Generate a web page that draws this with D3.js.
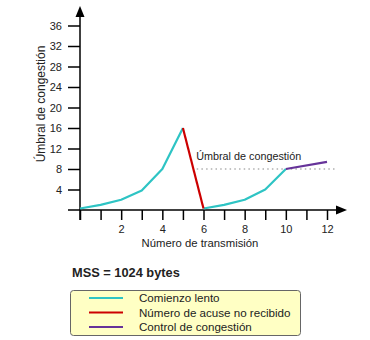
<!DOCTYPE html>
<html><head><meta charset="utf-8">
<script src="https://cdn.jsdelivr.net/npm/d3@7"></script>
<style>body{margin:0;background:#fff}svg{display:block;font-family:"Liberation Sans",Arial,sans-serif}</style>
</head><body>
<script>
const slowStart1 = [[0,0.3],[1,1],[2,2],[3,3.8],[4,8],[5,16]];
const ackLost = [[5,16],[6,0.3]];
const slowStart2 = [[6,0.3],[7,1],[8,2],[9,4],[10,8]];
const congControl = [[10,8],[12,9.4]];
const threshold = 8;
const thresholdRange = [5.67, 12.5];
const xTicks = [0,1,2,3,4,5,6,7,8,9,10,11,12];
const yTicks = [4,8,12,16,20,24,28,32,36];
const legendItems = [
  {label:"Comienzo lento", color:"#2ec4c4"},
  {label:"Número de acuse no recibido", color:"#cc0000"},
  {label:"Control de congestión", color:"#663399"}
];

const W=370,H=340;
const svg=d3.select("body").append("svg").attr("width",W).attr("height",H);
const x=d3.scaleLinear().domain([0,12]).range([80,327]);
const y=d3.scaleLinear().domain([0,36]).range([210,25.5]);
const txt="#222";

// x axis
const gx=svg.append("g").attr("transform","translate(0,210)")
  .call(d3.axisBottom(x).tickValues(xTicks).tickSize(10).tickPadding(5)
    .tickFormat(d=> (d>0 && d%2===0)? d : ""));
gx.select(".domain").remove();
gx.selectAll("line").attr("stroke","#000").attr("stroke-width",1.5);
gx.selectAll("text").attr("font-size","11px").attr("fill",txt).attr("font-family","Liberation Sans, Arial, sans-serif");
svg.append("line").attr("x1",68).attr("x2",338).attr("y1",210).attr("y2",210).attr("stroke","#000").attr("stroke-width",1.5);
svg.append("path").attr("d","M336,205.5L347,210L336,214.5Z").attr("fill","#000");

// y axis
const gy=svg.append("g").attr("transform","translate(80,0)")
  .call(d3.axisLeft(y).tickValues(yTicks).tickSize(12).tickPadding(6));
gy.select(".domain").remove();
gy.selectAll("line").attr("stroke","#000").attr("stroke-width",1.5);
gy.selectAll("text").attr("font-size","11px").attr("fill",txt).attr("font-family","Liberation Sans, Arial, sans-serif");
svg.append("line").attr("x1",80).attr("x2",80).attr("y1",220).attr("y2",16).attr("stroke","#000").attr("stroke-width",1.5);
svg.append("path").attr("d","M75.5,17L80,6L84.5,17Z").attr("fill","#000");

// threshold
svg.append("line").attr("x1",x(thresholdRange[0])).attr("x2",x(thresholdRange[1]))
  .attr("y1",y(threshold)).attr("y2",y(threshold))
  .attr("stroke","#888").attr("stroke-width",1.2).attr("stroke-dasharray","1.5,3.2");
svg.append("text").attr("x",x(thresholdRange[0])-0.5).attr("y",160)
  .attr("font-size","10.8px").attr("fill",txt).text("Úmbral de congestión");

const line=d3.line().x(d=>x(d[0])).y(d=>y(d[1]));
[[slowStart1,legendItems[0].color],[slowStart2,legendItems[0].color],[ackLost,legendItems[1].color],[congControl,legendItems[2].color]]
 .forEach(([data,c])=>svg.append("path").datum(data).attr("d",line).attr("fill","none").attr("stroke",c).attr("stroke-width",2.2).attr("stroke-linejoin","round"));

// axis titles
svg.append("text").attr("x",200).attr("y",247).attr("text-anchor","middle").attr("font-size","11.3px").attr("fill",txt).text("Número de transmisión");
svg.append("text").attr("transform","translate(45,104) rotate(-90)").attr("text-anchor","middle").attr("font-size","12px").attr("fill",txt).text("Úmbral de congestión");

// MSS
svg.append("text").attr("x",72).attr("y",277).attr("font-size","12.8px").attr("font-weight","bold").attr("fill",txt).text("MSS = 1024 bytes");

// legend
svg.append("rect").attr("x",70.5).attr("y",290.5).attr("width",230).attr("height",45).attr("rx",3)
  .attr("fill","#ffffc4").attr("stroke","#666").attr("stroke-width",1);
const lg=svg.append("g").selectAll("g").data(legendItems).enter().append("g")
  .attr("transform",(d,i)=>`translate(0,${298+i*14.5})`);
lg.append("line").attr("x1",89).attr("x2",123).attr("stroke",d=>d.color).attr("stroke-width",2);
lg.append("text").attr("x",139).attr("y",4.3).attr("font-size","11.6px").attr("fill",txt).text(d=>d.label);
</script>
</body></html>
